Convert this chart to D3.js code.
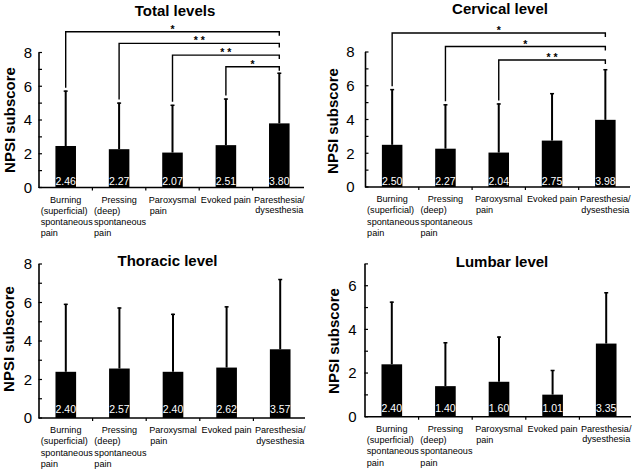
<!DOCTYPE html>
<html>
<head>
<meta charset="utf-8">
<script src="https://cdn.jsdelivr.net/npm/d3@7"></script>
<style>
  html, body { margin: 0; padding: 0; background: #fff; }
  svg { display: block; font-family: "Liberation Sans", Arial, sans-serif; }
</style>
</head>
<body>
<svg id="chart" width="636" height="470"></svg>
<script>
// ---------- data ----------
const categories = [
  ["Burning", "(superficial)", "spontaneous", "pain"],
  ["Pressing", "(deep)", "spontaneous", "pain"],
  ["Paroxysmal", "pain"],
  ["Evoked pain"],
  ["Paresthesia/", "dysesthesia"]
];
const titles = ["Total levels", "Cervical level", "Thoracic level", "Lumbar level"];
const yLabel = "NPSI subscore";

const totalMeans    = [2.46, 2.27, 2.07, 2.51, 3.80];
const totalSD       = [3.28, 2.76, 2.83, 2.76, 3.00];
const cervicalMeans = [2.50, 2.27, 2.04, 2.75, 3.98];
const cervicalSD    = [3.30, 2.63, 2.91, 2.81, 3.00];
const thoracicMeans = [2.40, 2.57, 2.40, 2.62, 3.57];
const thoracicSD    = [3.53, 3.17, 3.01, 3.18, 3.65];
const lumbarMeans   = [2.40, 1.40, 1.60, 1.01, 3.35];
const lumbarSD      = [2.87, 2.01, 2.07, 1.13, 2.35];

const ticks8 = [0, 2, 4, 6, 8];
const ticks7 = [0, 2, 4, 6];
const minor8 = [1, 3, 5, 7];
const minor7 = [1, 3, 5, 7];

// significance comparisons: [from index, to index, label]
const totalSig    = [[0, 4, "*"], [1, 4, "* *"], [2, 4, "* *"], [3, 4, "*"]];
const cervicalSig = [[0, 4, "*"], [1, 4, "*"], [2, 4, "* *"]];

// ---------- layout ----------
const panels = [
  { title: titles[0], means: totalMeans, sd: totalSD, sig: totalSig, yMax: 8, ticks: ticks8, minor: minor8,
    x0: 39, x1: 306, y0: 187.5, y1: 52.5, tx: 175, ty: 16, lx: 15, ly: 120, tickGap: 7, valOff: 2.5,
    bTop: 31.7, bStep: 11.7 },
  { title: titles[1], means: cervicalMeans, sd: cervicalSD, sig: cervicalSig, yMax: 8, ticks: ticks8, minor: minor8,
    x0: 365.5, x1: 632, y0: 187, y1: 52, tx: 500, ty: 14, lx: 338, ly: 121, tickGap: 11, valOff: 2,
    bTop: 33, bStep: 13.5 },
  { title: titles[2], means: thoracicMeans, sd: thoracicSD, sig: [], yMax: 8, ticks: ticks8, minor: minor8,
    x0: 39, x1: 307, y0: 418, y1: 264, tx: 167.5, ty: 266, lx: 14, ly: 339, tickGap: 7, valOff: 5 },
  { title: titles[3], means: lumbarMeans, sd: lumbarSD, sig: [], yMax: 7, ticks: ticks7, minor: minor7,
    x0: 365, x1: 633, y0: 416.7, y1: 263.9, tx: 502, ty: 267, lx: 339, ly: 341, tickGap: 8.5, valOff: 4.5 }
];

const svg = d3.select("#chart");

panels.forEach(p => {
  const g = svg.append("g");
  const x = d3.scaleBand().domain(d3.range(categories.length)).range([p.x0, p.x1]).padding(0);
  const y = d3.scaleLinear().domain([0, p.yMax]).range([p.y0, p.y1]);
  const bw = x.bandwidth() * 0.385;
  const cx = i => x(i) + x.bandwidth() / 2;

  // title
  g.append("text").attr("x", p.tx).attr("y", p.ty).attr("text-anchor", "middle")
    .attr("font-size", 15).attr("font-weight", "bold").text(p.title);

  // y label
  g.append("text").attr("transform", `translate(${p.lx},${p.ly}) rotate(-90)`)
    .attr("text-anchor", "middle").attr("font-size", 15).attr("font-weight", "bold").text(yLabel);

  // bars
  g.selectAll("rect.bar").data(p.means).join("rect").attr("class", "bar")
    .attr("x", (d, i) => cx(i) - bw / 2).attr("width", bw)
    .attr("y", d => y(d)).attr("height", d => y(0) - y(d)).attr("fill", "#000");

  // error bars
  p.means.forEach((m, i) => {
    const top = y(m + p.sd[i]);
    g.append("line").attr("x1", cx(i)).attr("x2", cx(i)).attr("y1", y(m)).attr("y2", top)
      .attr("stroke", "#000").attr("stroke-width", 2);
    g.append("line").attr("x1", cx(i) - 2).attr("x2", cx(i) + 2).attr("y1", top + 0.5).attr("y2", top + 0.5)
      .attr("stroke", "#000").attr("stroke-width", 1.5);
  });

  // value labels
  g.selectAll("text.val").data(p.means).join("text").attr("class", "val")
    .attr("x", (d, i) => cx(i)).attr("y", y(0) - p.valOff).attr("text-anchor", "middle")
    .attr("font-size", 10.5).attr("fill", "#fff").text(d => d.toFixed(2));

  // y axis
  g.append("line").attr("x1", p.x0).attr("x2", p.x0).attr("y1", y(0) + 0.5).attr("y2", y(p.yMax))
    .attr("stroke", "#000").attr("stroke-width", 1.6);
  p.ticks.concat(p.minor).forEach(t => {
    g.append("line").attr("x1", p.x0 - 0.5).attr("x2", p.x0 + 3).attr("y1", y(t)).attr("y2", y(t))
      .attr("stroke", "#000").attr("stroke-width", 1.2);
  });
  g.selectAll("text.tick").data(p.ticks).join("text").attr("class", "tick")
    .attr("x", p.x0 - p.tickGap).attr("y", d => y(d)).attr("dy", "0.36em").attr("text-anchor", "end")
    .attr("font-size", 15).text(d => d);

  // x axis
  g.append("line").attr("x1", p.x0).attr("x2", p.x1 - 2).attr("y1", y(0)).attr("y2", y(0))
    .attr("stroke", "#000").attr("stroke-width", 1.6);
  d3.range(1, categories.length).forEach(i => {
    g.append("line").attr("x1", x(i)).attr("x2", x(i)).attr("y1", y(0)).attr("y2", y(0) + 3)
      .attr("stroke", "#000").attr("stroke-width", 1.2);
  });

  // category labels
  categories.forEach((lines, i) => {
    const tg = g.append("g").attr("font-size", 9.1);
    const tight = lines[0].endsWith("/");
    const spacing = tight ? 10.5 : 11.3;
    const texts = lines.map((s, k) => tg.append("text").attr("y", y(0) + 15 + k * spacing).text(s));
    const widths = texts.map(t => t.node().getComputedTextLength());
    const maxW = d3.max(widths);
    const left = cx(i) - maxW / 2 + 1;
    texts.forEach((t, k) => {
      if (k === 0 || tight) t.attr("x", cx(i) - widths[k] / 2);
      else t.attr("x", left);
    });
  });

  // significance brackets
  p.sig.forEach(([a, b, lab], k) => {
    const by = p.bTop + k * p.bStep;
    const la = cx(a), lb = cx(b);
    const legEnd = y(p.means[a] + p.sd[a]) - 3;
    g.append("path").attr("d", `M${la},${legEnd}V${by}H${lb}V${by + 4}`)
      .attr("fill", "none").attr("stroke", "#000").attr("stroke-width", 1.4);
    g.append("text").attr("x", (la + lb) / 2).attr("y", by + 1).attr("text-anchor", "middle")
      .attr("font-size", 10.5).attr("font-weight", "bold").style("white-space", "pre").text(lab);
  });
});
</script>
</body>
</html>
